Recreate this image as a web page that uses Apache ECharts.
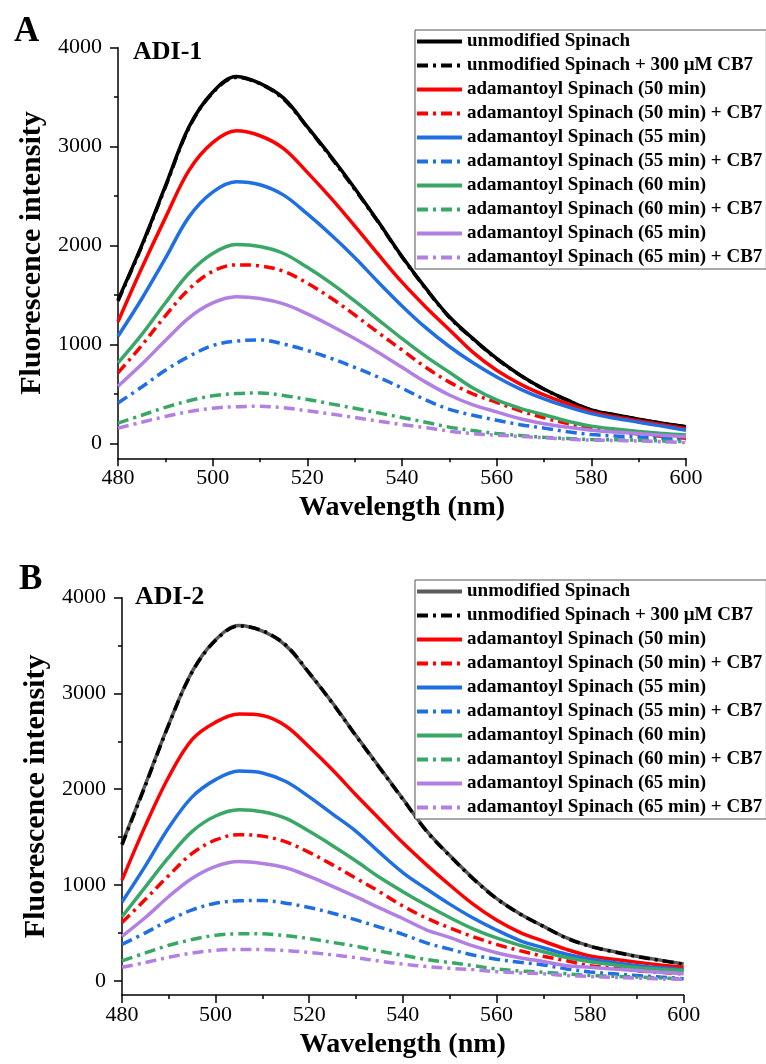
<!DOCTYPE html>
<html>
<head>
<meta charset="utf-8">
<title>Spinach fluorescence</title>
<script src="https://cdn.jsdelivr.net/npm/echarts@6/dist/echarts.min.js"></script>
<style>
  html, body { margin: 0; padding: 0; background: #fff; }
  .panel { width: 766px; height: 532px; }
</style>
</head>
<body>
<div id="panelA" class="panel"></div>
<div id="panelB" class="panel"></div>
<script>
// wavelength grid (nm)
const wavelength = [480, 485, 490, 495, 500, 505, 510, 515, 520, 525, 530, 535, 540, 545, 550, 555, 560, 565, 570, 575, 580, 585, 590, 595, 600]

const seriesNames = [
  'unmodified Spinach',
  'unmodified Spinach + 300 μM CB7',
  'adamantoyl Spinach (50 min)',
  'adamantoyl Spinach (50 min) + CB7',
  'adamantoyl Spinach (55 min)',
  'adamantoyl Spinach (55 min) + CB7',
  'adamantoyl Spinach (60 min)',
  'adamantoyl Spinach (60 min) + CB7',
  'adamantoyl Spinach (65 min)',
  'adamantoyl Spinach (65 min) + CB7',
]

const xTicks = [480, 500, 520, 540, 560, 580, 600]
const yMajor = [0, 1000, 2000, 3000, 4000]
const yMinor = [500, 1500, 2500, 3500]

// panel A : ADI-1
const aUnmod    = [1450, 2000, 2600, 3200, 3550, 3710, 3640, 3490, 3200, 2900, 2580, 2240, 1890, 1570, 1280, 1060, 860, 690, 550, 437, 340, 290, 245, 205, 170]
const aUnmodCB7 = [1440, 1990, 2590, 3190, 3545, 3700, 3635, 3480, 3195, 2890, 2570, 2235, 1885, 1565, 1275, 1055, 855, 688, 548, 435, 338, 288, 243, 203, 168]
const a50       = [1230, 1770, 2280, 2760, 3040, 3160, 3110, 2980, 2740, 2480, 2200, 1910, 1630, 1380, 1150, 920, 740, 600, 490, 400, 320, 270, 230, 190, 150]
const a50CB7    = [713, 990, 1290, 1560, 1740, 1805, 1795, 1740, 1620, 1470, 1300, 1120, 945, 770, 620, 500, 415, 330, 260, 200, 150, 120, 95, 72, 52]
const a55       = [1084, 1460, 1870, 2290, 2540, 2645, 2615, 2510, 2320, 2110, 1880, 1630, 1390, 1170, 980, 815, 672, 550, 450, 370, 302, 255, 215, 175, 134]
const a55CB7    = [409, 570, 740, 880, 990, 1035, 1047, 1005, 940, 860, 770, 670, 560, 440, 345, 285, 235, 190, 155, 118, 90, 75, 65, 50, 35]
const a60       = [814, 1100, 1420, 1720, 1920, 2010, 1990, 1920, 1780, 1620, 1440, 1250, 1060, 880, 720, 560, 440, 355, 290, 225, 175, 145, 120, 100, 85]
const a60CB7    = [206, 285, 365, 432, 482, 505, 510, 485, 445, 400, 356, 309, 262, 215, 165, 130, 101, 80, 62, 50, 40, 37, 33, 25, 17]
const a65       = [578, 800, 1040, 1270, 1420, 1483, 1465, 1410, 1310, 1190, 1060, 920, 770, 620, 490, 390, 319, 250, 200, 165, 134, 115, 100, 83, 67]
const a65CB7    = [155, 215, 272, 322, 356, 372, 375, 360, 330, 298, 262, 226, 190, 160, 125, 100, 84, 70, 58, 44, 34, 30, 25, 17, 8]

// panel B : ADI-2
const bUnmod    = [1430, 2050, 2680, 3230, 3560, 3710, 3650, 3500, 3210, 2900, 2560, 2230, 1900, 1570, 1310, 1070, 860, 700, 570, 447, 361, 305, 255, 215, 174]
const bUnmodCB7 = [1420, 2040, 2675, 3225, 3555, 3705, 3655, 3505, 3215, 2895, 2555, 2225, 1895, 1565, 1305, 1065, 858, 698, 568, 445, 360, 303, 253, 213, 172]
const b50       = [1050, 1620, 2130, 2520, 2700, 2785, 2770, 2660, 2440, 2200, 1940, 1690, 1440, 1213, 1000, 800, 634, 506, 413, 327, 259, 224, 193, 165, 140]
const b50CB7    = [607, 850, 1100, 1330, 1470, 1525, 1510, 1450, 1340, 1210, 1070, 930, 780, 655, 552, 460, 379, 314, 256, 208, 157, 132, 104, 88, 72]
const b55       = [822, 1200, 1600, 1920, 2100, 2190, 2170, 2080, 1920, 1740, 1560, 1340, 1130, 960, 800, 655, 530, 420, 345, 276, 225, 190, 157, 135, 116]
const b55CB7    = [379, 500, 630, 740, 810, 835, 838, 810, 765, 705, 635, 560, 485, 395, 330, 268, 225, 192, 165, 123, 92, 72, 55, 38, 22]
const b60       = [668, 980, 1290, 1560, 1720, 1785, 1765, 1695, 1560, 1410, 1250, 1080, 930, 790, 660, 542, 447, 371, 302, 242, 198, 167, 136, 120, 106]
const b60CB7    = [208, 290, 370, 430, 475, 490, 490, 470, 440, 400, 360, 310, 266, 222, 190, 158, 123, 102, 89, 72, 55, 46, 38, 28, 20]
const b65       = [464, 660, 880, 1070, 1195, 1245, 1225, 1180, 1090, 985, 875, 760, 650, 532, 453, 364, 293, 240, 200, 157, 140, 122, 106, 89, 72]
const b65CB7    = [140, 190, 245, 290, 318, 327, 326, 315, 295, 270, 240, 205, 174, 148, 130, 116, 95, 82, 72, 55, 44, 36, 27, 20, 14]

const SERIF = "'Liberation Serif', 'Times New Roman', serif"
const dashDot = [11, 5, 3, 5]
const colors = {
  black: '#000000',
  gray: '#5a5a5a',
  red: '#ff0000',
  blue: '#1f6fe3',
  green: '#39a866',
  purple: '#b27fe2',
}

function lineSeries(name, values, color, dashed) {
  return {
    name,
    type: 'line',
    data: wavelength.map((w, i) => [w, values[i]]),
    symbol: 'none',
    showSymbol: false,
    smooth: 0.35,
    lineStyle: { color, width: 3.5, type: dashed ? dashDot : 'solid', cap: 'butt' },
    itemStyle: { color },
    emphasis: { disabled: true },
  }
}

/**
 * Builds one panel (letter, label, legend, axes, curves).
 */
function buildPanel(el, p) {
  const chart = echarts.init(el, null, { renderer: 'canvas' })
  const labelStyle = { fontFamily: SERIF, fontSize: 22, color: '#000' }
  const axisLine = { show: true, onZero: false, lineStyle: { color: '#000', width: 1.5 } }

  chart.setOption({
    animation: false,
    backgroundColor: '#fff',
    title: [
      { text: p.letter, left: p.letterPos[0], top: p.letterPos[1], padding: 0,
        textStyle: { fontFamily: SERIF, fontSize: 35, fontWeight: 'bold', color: '#000' } },
      { text: p.label, left: p.labelPos[0], top: p.labelPos[1], padding: 0,
        textStyle: { fontFamily: SERIF, fontSize: 26, fontWeight: 'bold', color: '#000' } },
    ],
    legend: {
      orient: 'vertical',
      left: 415,
      top: p.legendTop,
      itemWidth: 45,
      itemHeight: 14,
      itemGap: 5,
      padding: [2, 4, 2, 0],
      backgroundColor: '#fff',
      borderColor: '#555',
      borderWidth: 1,
      itemStyle: { opacity: 0 },
      lineStyle: { width: 4 },
      textStyle: { fontFamily: SERIF, fontSize: 19, fontWeight: 'bold', color: '#000' },
      data: seriesNames,
    },
    grid: { left: p.grid.left, top: p.grid.top, width: p.grid.width, height: p.grid.height },
    xAxis: {
      type: 'value',
      min: 480,
      max: 600,
      interval: 20,
      name: 'Wavelength (nm)',
      nameLocation: 'middle',
      nameGap: 34,
      nameTextStyle: { fontFamily: SERIF, fontSize: 28, fontWeight: 'bold', color: '#000' },
      axisLine,
      axisTick: { show: true, length: 8, lineStyle: { color: '#000', width: 1.5 } },
      minorTick: { show: true, splitNumber: 2, length: 4, lineStyle: { color: '#000', width: 1.5 } },
      axisLabel: { ...labelStyle, margin: 9, customValues: xTicks },
      splitLine: { show: false },
    },
    yAxis: [
      {
        type: 'value',
        position: 'left',
        min: -150,
        max: 4000,
        name: 'Fluorescence intensity',
        nameLocation: 'middle',
        nameGap: 62,
        nameTextStyle: { fontFamily: SERIF, fontSize: 30, fontWeight: 'bold', color: '#000' },
        axisLine,
        axisTick: { show: true, length: 8, customValues: yMajor, lineStyle: { color: '#000', width: 1.5 } },
        axisLabel: { ...labelStyle, margin: 16, customValues: yMajor, formatter: v => String(v) },
        splitLine: { show: false },
      },
      {
        // minor ticks only
        type: 'value',
        position: 'left',
        min: -150,
        max: 4000,
        axisLine: { show: false },
        axisTick: { show: true, length: 4, customValues: yMinor, lineStyle: { color: '#000', width: 1.5 } },
        axisLabel: { show: false },
        splitLine: { show: false },
      },
    ],
    series: p.series,
  })
  return chart
}

buildPanel(document.getElementById('panelA'), {
  letter: 'A',
  letterPos: [14, 14],
  label: 'ADI-1',
  labelPos: [133, 39],
  legendTop: 30,
  grid: { left: 118, top: 47.7, width: 568, height: 410.6 },
  series: [
    lineSeries(seriesNames[0], aUnmod, colors.black, false),
    lineSeries(seriesNames[1], aUnmodCB7, colors.black, true),
    lineSeries(seriesNames[2], a50, colors.red, false),
    lineSeries(seriesNames[3], a50CB7, colors.red, true),
    lineSeries(seriesNames[4], a55, colors.blue, false),
    lineSeries(seriesNames[5], a55CB7, colors.blue, true),
    lineSeries(seriesNames[6], a60, colors.green, false),
    lineSeries(seriesNames[7], a60CB7, colors.green, true),
    lineSeries(seriesNames[8], a65, colors.purple, false),
    lineSeries(seriesNames[9], a65CB7, colors.purple, true),
  ],
})

buildPanel(document.getElementById('panelB'), {
  letter: 'B',
  letterPos: [19, 30],
  label: 'ADI-2',
  labelPos: [135, 52],
  legendTop: 48,
  grid: { left: 122, top: 65.7, width: 561.7, height: 405 },
  series: [
    lineSeries(seriesNames[0], bUnmod, colors.gray, false),
    lineSeries(seriesNames[1], bUnmodCB7, colors.black, true),
    lineSeries(seriesNames[2], b50, colors.red, false),
    lineSeries(seriesNames[3], b50CB7, colors.red, true),
    lineSeries(seriesNames[4], b55, colors.blue, false),
    lineSeries(seriesNames[5], b55CB7, colors.blue, true),
    lineSeries(seriesNames[6], b60, colors.green, false),
    lineSeries(seriesNames[7], b60CB7, colors.green, true),
    lineSeries(seriesNames[8], b65, colors.purple, false),
    lineSeries(seriesNames[9], b65CB7, colors.purple, true),
  ],
})
</script>
</body>
</html>
